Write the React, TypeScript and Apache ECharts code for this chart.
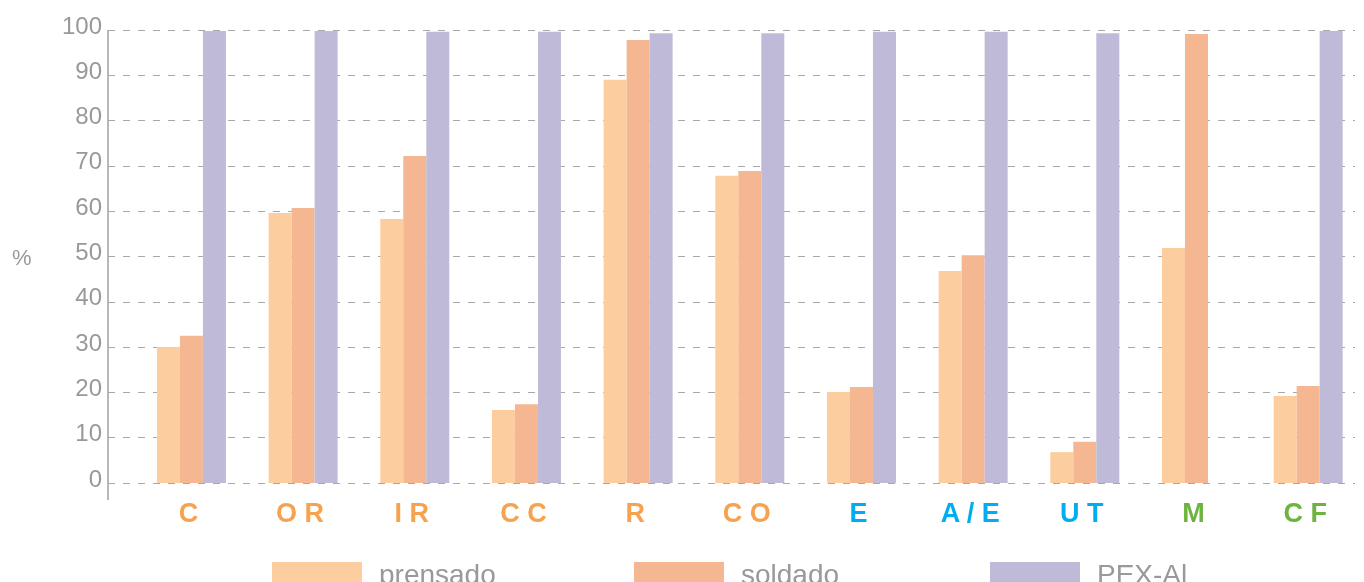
import React, { useEffect, useRef } from "react";
import * as echarts from "echarts";

const categories = ["C", "OR", "IR", "CC", "R", "CO", "E", "A/E", "UT", "M", "CF"];
const categoryColors = ["#F7A24F", "#F7A24F", "#F7A24F", "#F7A24F", "#F7A24F", "#F7A24F", "#00AEEF", "#00AEEF", "#00AEEF", "#6DB33F", "#6DB33F"];
const prensado = [30.0, 59.6, 58.3, 16.1, 89.0, 67.8, 20.1, 46.8, 6.8, 51.9, 19.2];
const soldado = [32.5, 60.7, 72.2, 17.4, 97.8, 68.9, 21.2, 50.3, 9.1, 99.1, 21.4];
const pexAl = [99.8, 99.8, 99.6, 99.6, 99.3, 99.3, 99.6, 99.6, 99.3, null, 99.8];
const seriesNames = ["prensado", "soldado", "PEX-Al"];
const seriesColors = ["#FCCD9F", "#F5B791", "#BFBAD7"];
const legendLefts = [272, 634, 990];

const FONT = "'Liberation Sans', Arial, sans-serif";

export default function App() {
  const ref = useRef<HTMLDivElement>(null);
  useEffect(() => {
    const chart = echarts.init(ref.current!, null, { renderer: "svg" });
    const seriesData = [prensado, soldado, pexAl];
    chart.setOption({
      animation: false,
      textStyle: { fontFamily: FONT },
      grid: [
        { left: 108, right: 9, top: 30, bottom: 99 },
        { left: 135.6, width: 1230, top: 30, bottom: 99 },
      ],
      xAxis: [
        { gridIndex: 0, type: "value", show: false, min: 0, max: 1 },
        {
          gridIndex: 1,
          type: "category",
          data: categories.map((c, i) => ({ value: c, textStyle: { color: categoryColors[i] } })),
          axisLine: { show: false },
          axisTick: { show: false },
          axisLabel: {
            fontSize: 27,
            fontWeight: "bold",
            fontFamily: FONT,
            margin: 16,
            padding: [0, 6, 0, 0],
            formatter: (v: string) => v.split("").join(" "),
          },
        },
      ],
      yAxis: [
        {
          gridIndex: 0,
          type: "value",
          min: 0,
          max: 100,
          interval: 10,
          axisLine: { show: false },
          axisTick: { show: false },
          axisLabel: {
            fontSize: 24,
            color: "#999999",
            margin: 6,
            fontFamily: FONT,
            verticalAlign: "bottom",
            lineHeight: 10,
          },
          splitLine: { show: true, lineStyle: { color: "#a8a8a8", width: 1, type: [7, 8] } },
        },
        { gridIndex: 1, type: "value", min: 0, max: 100, show: false },
      ],
      legend: seriesNames.map((n, i) => ({
        data: [n],
        left: legendLefts[i],
        top: 560,
        padding: 0,
        itemWidth: 90,
        itemHeight: 24,
        icon: "rect",
        selectedMode: false,
        textStyle: { fontSize: 28, color: "#999999", fontFamily: FONT, padding: [0, 0, 6, 12] },
      })),
      graphic: [
        { type: "line", shape: { x1: 108, y1: 30, x2: 108, y2: 500 }, style: { stroke: "#a0a0a0", lineWidth: 1.5 } },
        { type: "text", left: 12, top: 246, style: { text: "%", fontSize: 22, fill: "#999999", fontFamily: FONT } },
      ],
      series: seriesNames.map((n, i) => ({
        name: n,
        type: "bar",
        xAxisIndex: 1,
        yAxisIndex: 1,
        data: seriesData[i],
        barWidth: 23,
        barGap: "0%",
        itemStyle: { color: seriesColors[i] },
      })),
    });
    return () => chart.dispose();
  }, []);
  return <div ref={ref} style={{ position: "fixed", left: 0, top: 0, width: 1364, height: 582 }} />;
}
